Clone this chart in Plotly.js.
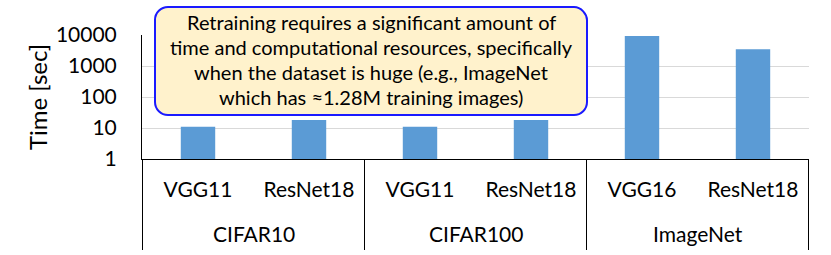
<!DOCTYPE html>
<html>
<head>
<meta charset="utf-8">
<script src="https://cdn.plot.ly/plotly-3.0.1.min.js"></script>
<style>html,body{margin:0;padding:0;background:#fff;}#chart{width:831px;height:255px;}</style>
</head>
<body>
<div id="chart"></div>
<script>
const datasets = ['CIFAR10', 'CIFAR10', 'CIFAR100', 'CIFAR100', 'ImageNet', 'ImageNet'];
const models = ['VGG11', 'ResNet18', 'VGG11', 'ResNet18', 'VGG16', 'ResNet18'];
const timeSec = [11, 18, 11, 18, 9300, 3500];
const yTickVals = [1, 10, 100, 1000, 10000];
const yTickText = ['1', '10', '100', '1000', '10000'];
const noteLines = [
  'Retraining requires a significant amount of',
  'time and computational resources, specifically',
  'when the dataset is huge (e.g., ImageNet',
  'which has \u22481.28M training images)'
];

const FONT = 'Lato, "Open Sans", sans-serif';
const FS = 21;
const NOTE_FS = 20;
const M = {l: 142, r: 22, t: 35, b: 96};
const W = 831 - M.l - M.r, H = 255 - M.t - M.b;
const px = v => (v - M.l) / W;
const py = v => (M.t + H - v) / H;

// unique category keys, labelled by model name
const xKeys = datasets.map((d, i) => d + ' / ' + models[i]);

// group spans (category index positions) from the data
const groups = [];
datasets.forEach((d, i) => {
  const g = groups[groups.length - 1];
  if (g && g.name === d) g.end = i; else groups.push({name: d, start: i, end: i});
});

// callout box in pixel coords
const box = {x0: 155, x1: 587, y0: 7, y1: 115, r: 13};
function roundRect(b) {
  const k = 0.4477;
  const x0 = px(b.x0), x1 = px(b.x1), y0 = py(b.y0), y1 = py(b.y1);
  const rx = b.r / W, ry = b.r / H;
  return `M ${x0 + rx} ${y0} L ${x1 - rx} ${y0} C ${x1 - rx * k} ${y0} ${x1} ${y0 - ry * (1 - k)} ${x1} ${y0 - ry} ` +
    `L ${x1} ${y1 + ry} C ${x1} ${y1 + ry * k} ${x1 - rx * k} ${y1} ${x1 - rx} ${y1} ` +
    `L ${x0 + rx} ${y1} C ${x0 + rx * k} ${y1} ${x0} ${y1 + ry * k} ${x0} ${y1 + ry} ` +
    `L ${x0} ${y0 - ry} C ${x0} ${y0 - ry * k} ${x0 + rx * k} ${y0} ${x0 + rx} ${y0} Z`;
}

const trace = {
  type: 'bar',
  x: xKeys,
  y: timeSec,
  marker: {color: '#5b9bd5'},
  hoverinfo: 'none'
};

const shapes = [];
// group dividers (left edge of each group plus the far right edge)
const divBottom = py(250);
groups.forEach(g => {
  shapes.push({type: 'line', xref: 'x', yref: 'paper', x0: g.start - 0.5, x1: g.start - 0.5, y0: 0, y1: divBottom,
    line: {color: '#000000', width: 1}});
});
const last = groups[groups.length - 1];
shapes.push({type: 'line', xref: 'x', yref: 'paper', x0: last.end + 0.5, x1: last.end + 0.5, y0: 0, y1: divBottom,
  line: {color: '#000000', width: 1}});
shapes.push({
  type: 'path', xref: 'paper', yref: 'paper',
  path: roundRect(box),
  fillcolor: '#fff2cc', line: {color: '#1a1aff', width: 2}, layer: 'above'
});

const annotations = [];
groups.forEach(g => {
  annotations.push({xref: 'x', yref: 'paper', x: (g.start + g.end) / 2, y: py(233),
    xanchor: 'center', yanchor: 'middle', showarrow: false, text: g.name,
    font: {family: FONT, size: FS, color: '#000000'}});
});
const lineY = [22, 47, 72, 97];
noteLines.forEach((t, i) => {
  annotations.push({xref: 'paper', yref: 'paper', x: px((box.x0 + box.x1) / 2), y: py(lineY[i]),
    xanchor: 'center', yanchor: 'middle', showarrow: false, text: t,
    font: {family: FONT, size: NOTE_FS, color: '#000000'}});
});

const layout = {
  width: 831, height: 255,
  margin: M,
  paper_bgcolor: '#ffffff', plot_bgcolor: '#ffffff',
  font: {family: FONT, size: FS, color: '#000000'},
  showlegend: false,
  bargap: 0.69,
  xaxis: {
    type: 'category',
    tickvals: xKeys, ticktext: models,
    showline: true, linecolor: '#000000', linewidth: 1,
    showgrid: false, ticks: '',
    ticklabelstandoff: 12,
    tickfont: {family: FONT, size: FS, color: '#000000'}
  },
  yaxis: {
    type: 'log', range: [0, 4],
    tickvals: yTickVals, ticktext: yTickText,
    showline: true, linecolor: '#000000', linewidth: 1,
    showgrid: true, gridcolor: '#d9d9d9', gridwidth: 1,
    zeroline: false, ticks: '',
    ticklabelstandoff: 20,
    automargin: true,
    tickfont: {family: FONT, size: FS, color: '#000000'},
    title: {text: 'Time [sec]', font: {family: FONT, size: 24, color: '#000000'}, standoff: 1}
  },
  shapes: shapes,
  annotations: annotations
};

Plotly.newPlot('chart', [trace], layout, {displayModeBar: false, staticPlot: true});
</script>
</body>
</html>
